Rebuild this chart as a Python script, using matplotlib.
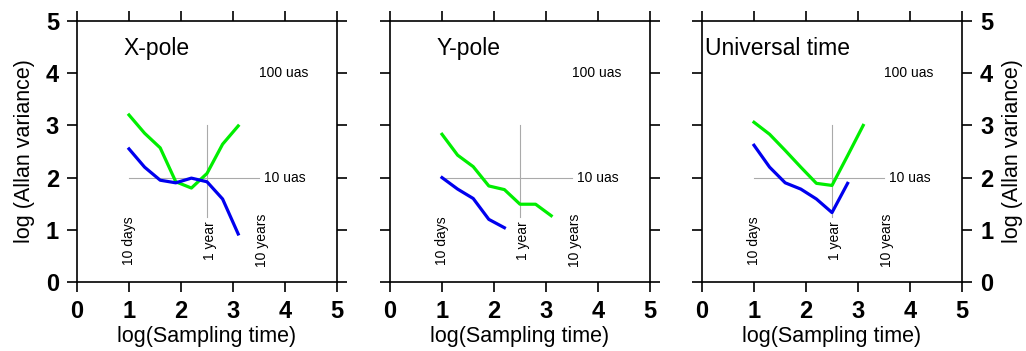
import numpy as np
from matplotlib import pyplot as plt

plt.rcParams['font.family'] = ['Liberation Sans', 'DejaVu Sans']

# log10 of sampling time (days), doubling steps
tau = [1.0, 1.3, 1.6, 1.9, 2.2, 2.5, 2.8, 3.1]

titles = ["X-pole", "Y-pole", "Universal time"]
title_x = [0.9, 0.9, 0.05]

green_vals = [
    [3.20, 2.85, 2.57, 1.92, 1.80, 2.08, 2.64, 2.99],
    [2.83, 2.43, 2.21, 1.84, 1.77, 1.49, 1.49, 1.27],
    [3.06, 2.83, 2.52, 2.20, 1.89, 1.85, 2.42, 3.00],
]
blue_vals = [
    [2.55, 2.20, 1.95, 1.90, 1.99, 1.92, 1.59, 0.92],
    [2.00, 1.78, 1.60, 1.20, 1.04],
    [2.62, 2.20, 1.90, 1.78, 1.59, 1.33, 1.89],
]

period_labels = ["10 days", "1 year", "10 years"]
period_x = [np.log10(10), np.log10(365.25), np.log10(3652.5)]

fig = plt.figure(figsize=(10.26, 3.51), dpi=100)
lefts = [77/1026, 390/1026, 702/1026]

for i in range(3):
    ax = fig.add_axes([lefts[i], 69/351, 260/1026, 261/351])
    ax.set_xlim(0, 5)
    ax.set_ylim(0, 5)
    ax.set_xticks(range(6))
    ax.set_yticks(range(6))

    # reference cross
    ax.plot([1, 3.5], [2, 2], color="#aaaaaa", lw=0.8)
    ax.plot([2.5, 2.5], [1.25, 3], color="#aaaaaa", lw=0.8)

    ax.plot(tau[:len(green_vals[i])], green_vals[i], color="#00ee00", lw=2.3)
    ax.plot(tau[:len(blue_vals[i])], blue_vals[i], color="#0000ee", lw=2.3)

    ax.text(title_x[i], 4.35, titles[i], fontsize=16.5, ha="left", va="baseline")
    ax.text(3.5, 4.0, "100 uas", fontsize=10, ha="left", va="center")
    ax.text(3.6, 2.0, "10 uas", fontsize=10, ha="left", va="center")
    for px, lab in zip(period_x, period_labels):
        ax.text(px, 0.8, lab, fontsize=10, rotation=90, ha="center", va="center")

    for s in ax.spines.values():
        s.set_linewidth(1.2)
    ax.tick_params(direction="out", length=7, width=1.2, top=True, right=True,
                   labelsize=17, pad=6)
    for t in ax.xaxis.get_major_ticks() + ax.yaxis.get_major_ticks():
        t.label1.set_fontweight("bold")
        t.label2.set_fontweight("bold")
    ax.set_xlabel("log(Sampling time)", fontsize=15.5, labelpad=2)

    if i == 0:
        ax.set_ylabel("log (Allan variance)", fontsize=15.5, labelpad=8)
    elif i == 1:
        ax.tick_params(labelleft=False)
    else:
        ax.tick_params(labelleft=False, labelright=True)
        ax.yaxis.set_label_position("right")
        ax.set_ylabel("log (Allan variance)", fontsize=15.5, labelpad=6)

fig.savefig("out.png", dpi=100)
